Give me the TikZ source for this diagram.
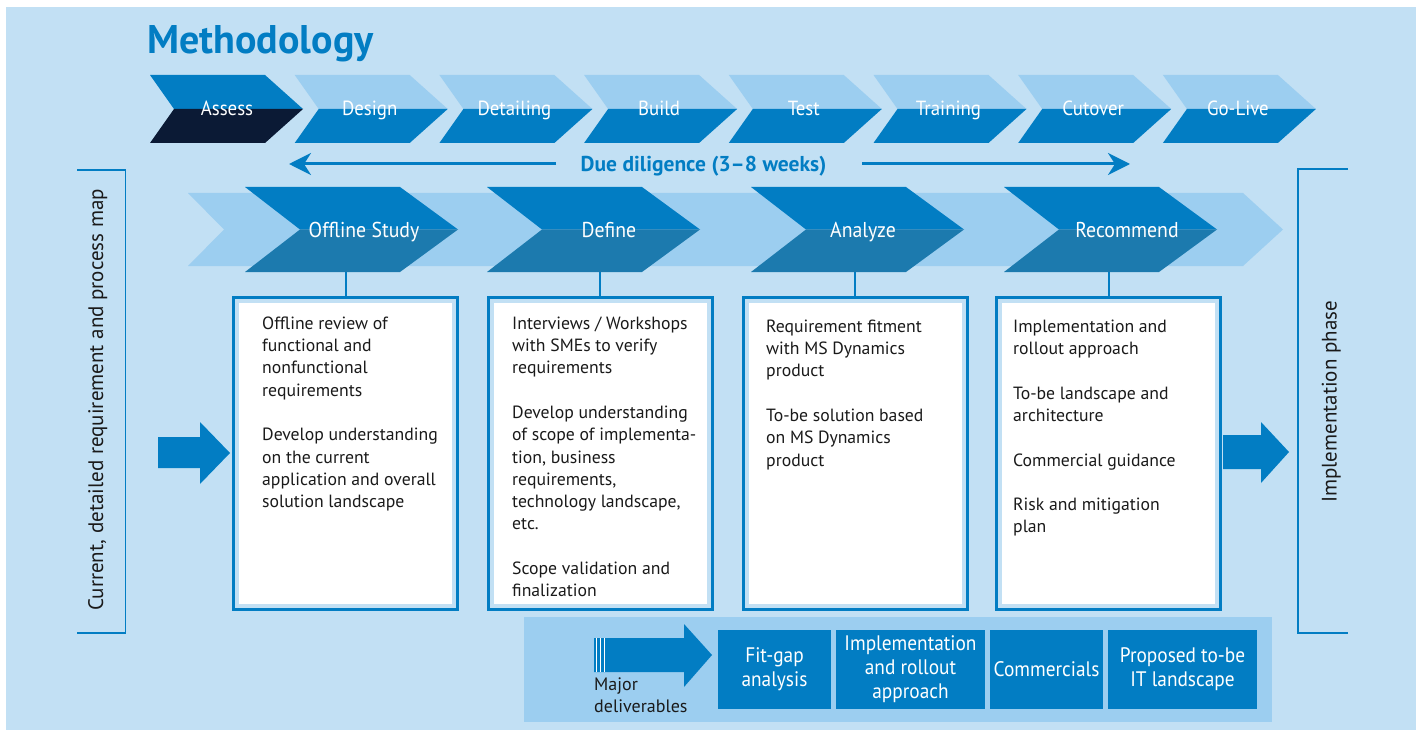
\documentclass[tikz,border=0pt]{standalone}
\usepackage{fontspec}
\setmainfont{PT Sans}
\newfontfamily\cond[FakeStretch=0.92]{PT Sans}
\usetikzlibrary{arrows.meta}
\definecolor{bg}{HTML}{C2E0F4}
\definecolor{light}{HTML}{9CCEF0}
\definecolor{mid}{HTML}{027DC3}
\definecolor{navy}{HTML}{0B1A35}
\definecolor{steel}{HTML}{1C7AAE}
\definecolor{txt}{HTML}{1A1A1A}
\begin{document}
\begin{tikzpicture}[x=1pt,y=-1pt,
  toplab/.style={anchor=base,inner sep=0,text=white,font=\cond\fontsize{20.5}{22}\selectfont},
  midlab/.style={anchor=base,inner sep=0,text=white,font=\cond\fontsize{21.5}{22}\selectfont},
  outerbox/.style={draw=mid,line width=3pt,fill=bg,outer sep=0pt,inner sep=0pt,minimum width=224pt,minimum height=312pt},
  boxtext/.style={anchor=north west,inner sep=0pt,align=left,text=txt,font=\fontsize{17.7}{22.3}\selectfont},
  stemline/.style={draw=mid,line width=2pt},
  bracket/.style={draw=mid,line width=1.5pt},
  sidetext/.style={rotate=90,anchor=base,inner sep=0pt,text=txt,font=\fontsize{21}{24}\selectfont},
  delbox/.style={fill=mid,inner sep=0pt,text=white,align=center,font=\cond\fontsize{21}{24}\selectfont},
  ddarrow/.style={draw=mid,line width=3pt,-{Stealth[length=22pt,width=22pt,inset=7pt]}}
]
\useasboundingbox (0,0) rectangle (1416,730);
\fill[white] (0,0) rectangle (1416,730);
\fill[bg] (6,7) rectangle (1416,730);

% title
\node[anchor=base west,inner sep=0pt,text=mid,font=\bfseries\fontsize{40}{44}\selectfont] (title) at (147,54) {Methodology};

% top chevrons
\fill[mid] (150,75) -- (265,75) -- (303,109) -- (174,109) -- cycle;
\fill[navy] (174,109) -- (303,109) -- (265,143) -- (150,143) -- cycle;
\node[toplab] (assess) at (227,116) {Assess};
\foreach \i/\lab/\nm in {1/Design/design,2/Detailing/detailing,3/Build/build,4/Test/test,5/Training/training,6/Cutover/cutover,7/Go-Live/golive}{
  \pgfmathsetmacro\L{150+144.7*\i}
  \fill[light] (\L,75) -- (\L+115,75) -- (\L+153,109) -- (\L+24,109) -- cycle;
  \fill[mid] (\L+24,109) -- (\L+153,109) -- (\L+115,143) -- (\L,143) -- cycle;
  \node[toplab] (\nm) at (\L+75,116) {\lab};
}

% due diligence
\node[anchor=base,inner sep=0pt,text=mid,font=\bfseries\fontsize{21.5}{24}\selectfont] (dd) at (703.5,172) {Due diligence (3--8 weeks)};
\coordinate (ddLs) at (556,164);
\coordinate (ddLe) at (289,164);
\coordinate (ddRs) at (862,164);
\coordinate (ddRe) at (1130,164);
\draw[ddarrow] (ddLs) -- (ddLe);
\draw[ddarrow] (ddRs) -- (ddRe);

% middle band
\fill[light] (188,193) -- (1243,193) -- (1283,229.5) -- (1243,266) -- (188,266) -- (224,229.5) -- cycle;
\foreach \L/\c/\lab/\nm/\sx in {245/364/Offline Study/off/345.5,487/609/Define/def/600,751/863/Analyze/ana/855,1004/1127/Recommend/rec/1108.5}{
  \fill[mid] (\L,187) -- (\L+155,187) -- (\L+213,229.5) -- (\L+55,229.5) -- cycle;
  \fill[steel] (\L+55,229.5) -- (\L+213,229.5) -- (\L+155,272) -- (\L,272) -- cycle;
  \node[midlab] (\nm) at (\c,237) {\lab};
  \coordinate (\nm s) at (\sx,272);
}

% boxes
\foreach \nm/\x in {off/345.5,def/600,ana/855,rec/1108.5}{
  \node[outerbox] (\nm box) at (\x,453.5) {};
  \fill[white] ([shift={(5.5,5.5)}]\nm box.north west) rectangle ([shift={(-5.5,-5.5)}]\nm box.south east);
  \draw[stemline] (\nm s) -- (\nm box.north);
}

\node[boxtext] (offtxt) at (262,313.4) {\strut Offline review of\\ functional and\\ nonfunctional\\ requirements\\[22.3pt] Develop understanding\\ on the current\\ application and overall\\ solution landscape};
\node[boxtext] (deftxt) at (512,313.4) {\strut Interviews / Workshops\\ with SMEs to verify\\ requirements\\[22.3pt] Develop understanding\\ of scope of implementa-\\ tion, business\\ requirements,\\ technology landscape,\\ etc.\\[22.3pt] Scope validation and\\ finalization};
\node[boxtext] (anatxt) at (766,316.4) {\strut Requirement fitment\\ with MS Dynamics\\ product\\[22.3pt] To-be solution based\\ on MS Dynamics\\ product};
\node[boxtext] (rectxt) at (1013,316.4) {\strut Implementation and\\ rollout approach\\[22.3pt] To-be landscape and\\ architecture\\[22.3pt] Commercial guidance\\[22.3pt] Risk and mitigation\\ plan};

% side arrows
\fill[mid] (158,437) -- (200,437) -- (200,422) -- (230,453) -- (200,484) -- (200,468) -- (158,468) -- cycle;
\fill[mid] (1223,435) -- (1261,435) -- (1261,422) -- (1289,452) -- (1261,483) -- (1261,469) -- (1223,469) -- cycle;

% brackets
\draw[bracket] (77,170) -- (125.5,170) -- (125.5,633) -- (77,633);
\draw[bracket] (1348,169) -- (1298,169) -- (1298,633) -- (1348,633);
\node[sidetext] (curtxt) at (103,400) {Current, detailed requirement and process map};
\node[sidetext] (imptxt) at (1336.5,402) {Implementation phase};

% deliverables
\fill[light] (524,617) rectangle (1272,722);
\fill[mid] (594,638) -- (684,638) -- (684,624) -- (712,655) -- (684,687) -- (684,672) -- (594,672) -- cycle;
\foreach \sx in {596.2,600.2,604.2}{\draw[white,line width=1.2pt] (\sx,638) -- (\sx,672);}
\node[anchor=north west,inner sep=0pt,align=left,text=txt,font=\fontsize{18}{22}\selectfont] (major) at (594,674.6) {\strut Major\\ deliverables};
\node[delbox,minimum width=113pt,minimum height=79pt] (d1) at (774.5,669.5) {Fit-gap\\ analysis};
\node[delbox,minimum width=149pt,minimum height=79pt] (d2) at (910.5,669.5) {Implementation\\ and rollout\\ approach};
\node[delbox,minimum width=113pt,minimum height=79pt] (d3) at (1046.5,669.5) {Commercials};
\node[delbox,minimum width=149pt,minimum height=79pt] (d4) at (1182.5,669.5) {Proposed to-be\\ IT landscape};
\end{tikzpicture}
\end{document}
